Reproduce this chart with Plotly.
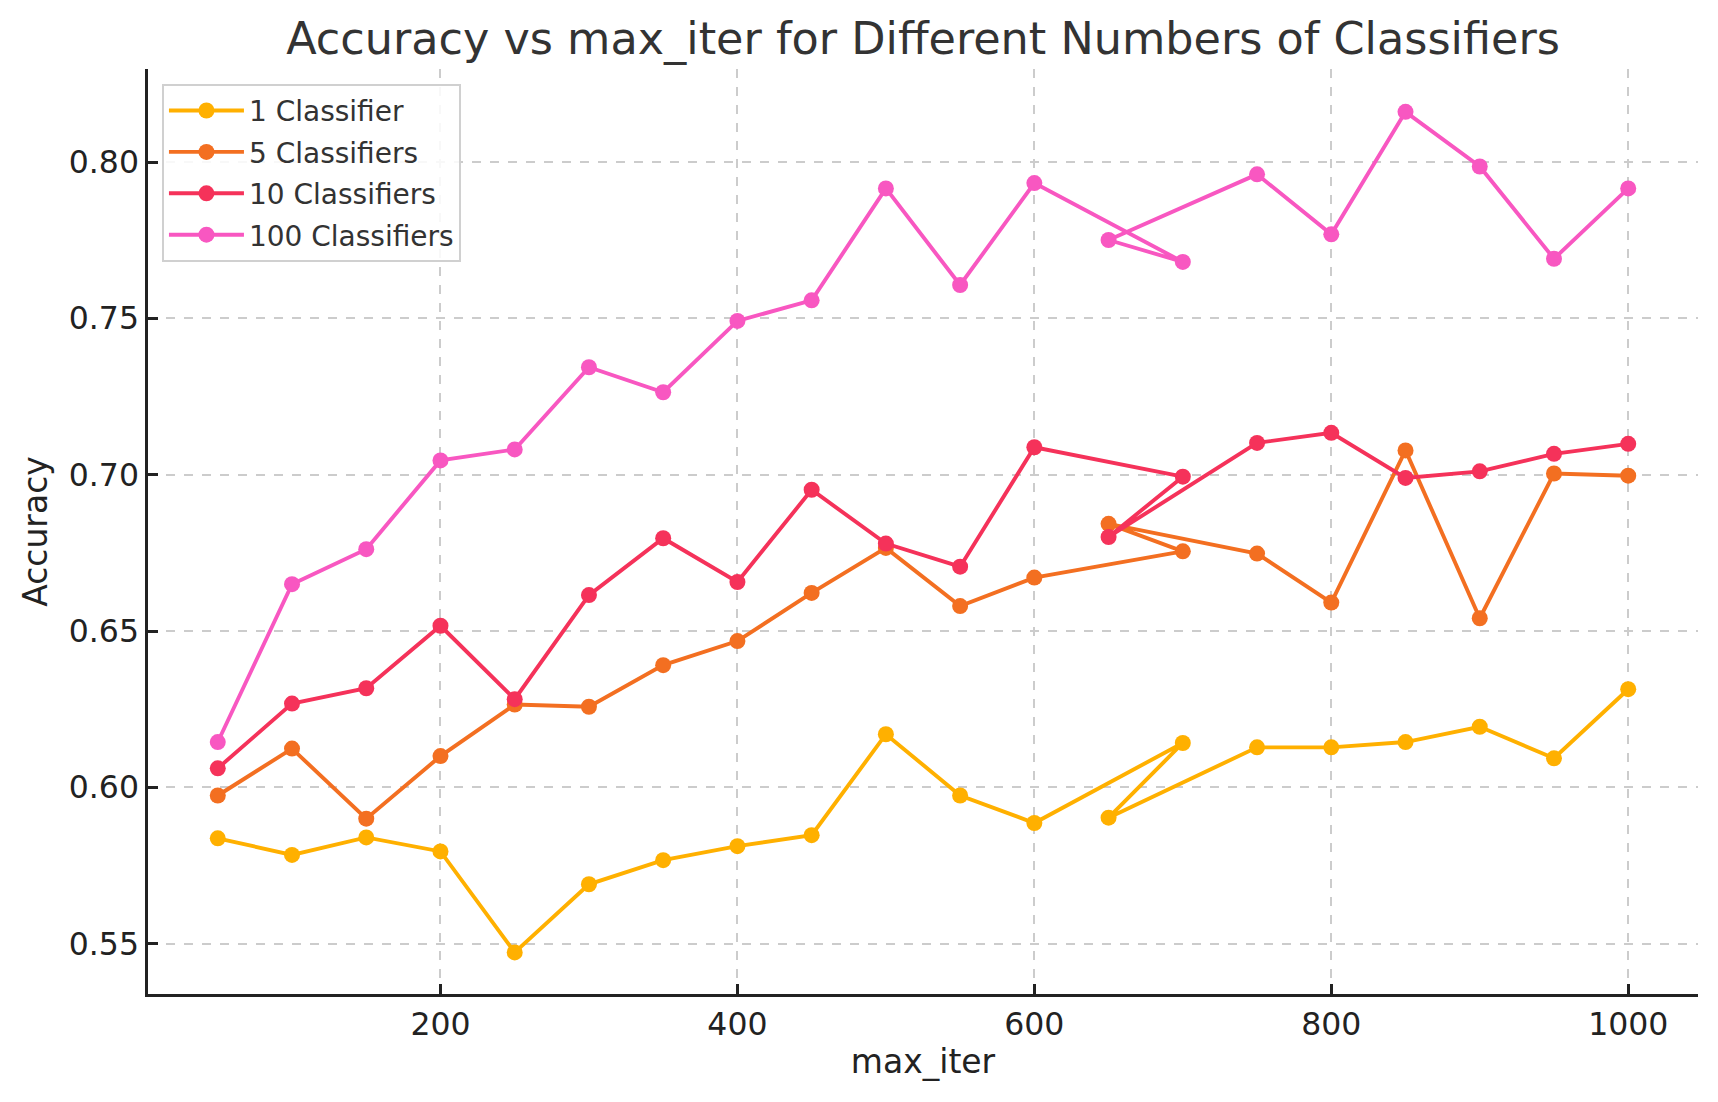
import plotly.graph_objects as go

max_iter = [50, 100, 150, 200, 250, 300, 350, 400, 450, 500, 550, 600, 700, 650, 750, 800, 850, 900, 950, 1000]

acc_1 = [0.5837, 0.5784, 0.5840, 0.5795, 0.5472, 0.5690, 0.5767, 0.5812, 0.5847, 0.6170, 0.5974, 0.5886,
         0.6142, 0.5903, 0.6128, 0.6128, 0.6145, 0.6194, 0.6093, 0.6314]
acc_5 = [0.5974, 0.6124, 0.5900, 0.6100, 0.6265, 0.6258, 0.6391, 0.6468, 0.6622, 0.6766, 0.6580, 0.6671,
         0.6755, 0.6843, 0.6748, 0.6591, 0.7078, 0.6541, 0.7004, 0.6997]
acc_10 = [0.6061, 0.6268, 0.6317, 0.6517, 0.6282, 0.6615, 0.6797, 0.6657, 0.6952, 0.6780, 0.6706, 0.7088,
          0.6994, 0.6801, 0.7102, 0.7134, 0.6990, 0.7011, 0.7067, 0.7099]
acc_100 = [0.6145, 0.6650, 0.6762, 0.7046, 0.7081, 0.7344, 0.7264, 0.7492, 0.7558, 0.7916, 0.7607, 0.7933,
           0.7681, 0.7751, 0.7961, 0.7769, 0.8161, 0.7986, 0.7691, 0.7916]

series_names = ["1 Classifier", "5 Classifiers", "10 Classifiers", "100 Classifiers"]
series_values = [acc_1, acc_5, acc_10, acc_100]
colors = ["#FFB000", "#F36F21", "#F5325A", "#F857C1"]

x_ticks = [200, 400, 600, 800, 1000]
y_ticks = [0.55, 0.60, 0.65, 0.70, 0.75, 0.80]

FONT = "DejaVu Sans"

fig = go.Figure()
for i, (name, vals, col) in enumerate(zip(series_names, series_values, colors)):
    fig.add_trace(go.Scatter(
        x=max_iter, y=vals, name=name, mode="lines+markers",
        legendgroup=f"g{i}",
        line=dict(color=col, width=3.9),
        marker=dict(color=col, size=16, line=dict(width=0)),
    ))

fig.update_layout(
    width=1710, height=1094,
    plot_bgcolor="white", paper_bgcolor="white",
    margin=dict(l=140, r=20, t=61, b=108),
    font=dict(family=FONT, color="#222222"),
    title=dict(text="Accuracy vs max_iter for Different Numbers of Classifiers",
               xref="paper", x=0.5, xanchor="center", y=1 - 30 / 1094, yanchor="middle",
               font=dict(size=44.5, color="#333333", family=FONT)),
    legend=dict(x=0.009, y=0.984, xanchor="left", yanchor="top",
                bgcolor="rgba(255,255,255,0.85)", bordercolor="#D0D0D0", borderwidth=2,
                font=dict(size=28, color="#333333", family=FONT),
                itemwidth=75, tracegroupgap=2, traceorder="grouped"),
    showlegend=True,
)

fig.update_xaxes(
    range=[3, 1047], tickvals=x_ticks, ticktext=[str(v) for v in x_ticks],
    showline=True, linecolor="#222222", linewidth=2.5, mirror=False,
    ticks="inside", ticklen=10, tickwidth=2.5, tickcolor="#222222",
    tickfont=dict(size=31.5, color="#222222", family=FONT),
    showgrid=True, gridcolor="#CCCCCC", gridwidth=1.5, griddash="dash",
    zeroline=False,
    title=dict(text="max_iter", font=dict(size=33, color="#222222", family=FONT), standoff=10),
)
fig.update_yaxes(
    range=[0.5339, 0.8298], tickvals=y_ticks, ticktext=[f"{v:.2f}" for v in y_ticks],
    showline=True, linecolor="#222222", linewidth=2.5, mirror=False,
    ticks="inside", ticklen=10, tickwidth=2.5, tickcolor="#222222",
    tickfont=dict(size=31.5, color="#222222", family=FONT),
    showgrid=True, gridcolor="#CCCCCC", gridwidth=1.5, griddash="dash",
    zeroline=False,
    title=dict(text="Accuracy", font=dict(size=33, color="#222222", family=FONT), standoff=12),
)

fig.write_html("out.html")
